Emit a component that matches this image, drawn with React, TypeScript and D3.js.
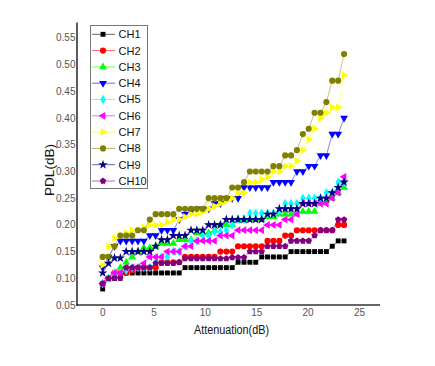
import React from 'react';
import * as d3 from 'd3';

// attenuation steps (dB)
const attenuation = [0, 0.57, 1.15, 1.72, 2.29, 2.87, 3.44, 4.01, 4.59, 5.16, 5.73, 6.3, 6.88, 7.45,
  8.02, 8.6, 9.17, 9.74, 10.32, 10.89, 11.46, 12.04, 12.61, 13.18, 13.76, 14.33, 14.9, 15.48, 16.05,
  16.62, 17.2, 17.77, 18.34, 18.91, 19.49, 20.06, 20.63, 21.21, 21.78, 22.35, 22.93, 23.5];

const ch1 = [0.08, 0.10, 0.10, 0.105, 0.11, 0.11, 0.11, 0.11, 0.11, 0.11, 0.11, 0.11, 0.11, 0.11,
  0.12, 0.12, 0.12, 0.12, 0.12, 0.12, 0.12, 0.12, 0.12, 0.13, 0.13, 0.13, 0.13, 0.14, 0.14,
  0.14, 0.14, 0.14, 0.15, 0.15, 0.15, 0.15, 0.15, 0.15, 0.15, 0.16, 0.17, 0.17];
const ch2 = [0.09, 0.10, 0.11, 0.11, 0.11, 0.115, 0.12, 0.12, 0.12, 0.12, 0.13, 0.13, 0.13, 0.13,
  0.14, 0.14, 0.14, 0.14, 0.14, 0.14, 0.15, 0.15, 0.15, 0.16, 0.16, 0.16, 0.16, 0.16, 0.17,
  0.17, 0.17, 0.18, 0.18, 0.19, 0.19, 0.19, 0.19, 0.19, 0.19, 0.19, 0.20, 0.20];
const ch3 = [0.09, 0.10, 0.11, 0.12, 0.13, 0.14, 0.15, 0.157, 0.157, 0.16, 0.165, 0.165, 0.165, 0.172,
  0.172, 0.172, 0.185, 0.185, 0.185, 0.19, 0.20, 0.20, 0.20, 0.21, 0.21, 0.21, 0.21, 0.21, 0.215,
  0.215, 0.22, 0.22, 0.22, 0.22, 0.225, 0.225, 0.225, 0.24, 0.245, 0.25, 0.26, 0.27];
const ch4 = [0.12, 0.14, 0.16, 0.17, 0.17, 0.17, 0.17, 0.17, 0.18, 0.18, 0.19, 0.19, 0.19, 0.21,
  0.22, 0.225, 0.23, 0.23, 0.23, 0.24, 0.24, 0.25, 0.25, 0.25, 0.27, 0.27, 0.27, 0.27, 0.27,
  0.28, 0.28, 0.28, 0.28, 0.30, 0.30, 0.31, 0.31, 0.33, 0.33, 0.37, 0.37, 0.40];
const ch5 = [0.09, 0.10, 0.11, 0.11, 0.115, 0.12, 0.12, 0.12, 0.12, 0.13, 0.14, 0.14, 0.15, 0.15,
  0.16, 0.17, 0.17, 0.18, 0.18, 0.187, 0.187, 0.19, 0.20, 0.21, 0.21, 0.222, 0.222, 0.222, 0.222,
  0.222, 0.225, 0.24, 0.24, 0.24, 0.25, 0.25, 0.25, 0.25, 0.26, 0.26, 0.28, 0.28];
const ch6 = [0.09, 0.10, 0.11, 0.11, 0.12, 0.12, 0.12, 0.128, 0.14, 0.14, 0.14, 0.15, 0.15, 0.15,
  0.16, 0.16, 0.17, 0.17, 0.17, 0.17, 0.18, 0.18, 0.18, 0.19, 0.19, 0.19, 0.19, 0.19, 0.20,
  0.20, 0.20, 0.21, 0.21, 0.22, 0.24, 0.24, 0.24, 0.24, 0.24, 0.25, 0.26, 0.29];
const ch7 = [0.125, 0.16, 0.175, 0.18, 0.185, 0.19, 0.19, 0.195, 0.20, 0.20, 0.20, 0.205, 0.21, 0.21,
  0.215, 0.22, 0.22, 0.225, 0.23, 0.235, 0.24, 0.245, 0.25, 0.26, 0.26, 0.28, 0.28, 0.285, 0.29,
  0.30, 0.30, 0.31, 0.31, 0.32, 0.34, 0.36, 0.38, 0.40, 0.41, 0.42, 0.42, 0.48];
const ch8 = [0.14, 0.14, 0.16, 0.18, 0.18, 0.18, 0.19, 0.19, 0.21, 0.22, 0.22, 0.22, 0.22, 0.23,
  0.23, 0.23, 0.23, 0.23, 0.25, 0.25, 0.25, 0.25, 0.27, 0.27, 0.28, 0.30, 0.30, 0.30, 0.30,
  0.31, 0.31, 0.33, 0.33, 0.34, 0.37, 0.38, 0.41, 0.41, 0.43, 0.47, 0.47, 0.52];
const ch9 = [0.11, 0.128, 0.138, 0.138, 0.15, 0.15, 0.15, 0.15, 0.15, 0.16, 0.172, 0.172, 0.18, 0.18,
  0.18, 0.19, 0.19, 0.19, 0.20, 0.20, 0.20, 0.21, 0.21, 0.21, 0.21, 0.21, 0.21, 0.21, 0.22,
  0.22, 0.23, 0.23, 0.23, 0.23, 0.24, 0.24, 0.24, 0.25, 0.25, 0.26, 0.27, 0.28];
const ch10 = [0.09, 0.10, 0.10, 0.10, 0.12, 0.12, 0.12, 0.12, 0.12, 0.128, 0.128, 0.128, 0.128, 0.13,
  0.137, 0.137, 0.137, 0.137, 0.137, 0.137, 0.137, 0.137, 0.139, 0.139, 0.139, 0.15, 0.15, 0.15, 0.16,
  0.16, 0.16, 0.16, 0.17, 0.17, 0.17, 0.17, 0.18, 0.19, 0.19, 0.19, 0.21, 0.21];

const channelNames = ['CH1', 'CH2', 'CH3', 'CH4', 'CH5', 'CH6', 'CH7', 'CH8', 'CH9', 'CH10'];
const channelValues = [ch1, ch2, ch3, ch4, ch5, ch6, ch7, ch8, ch9, ch10];
const channelColors = ['#000000', '#ff0000', '#00ff00', '#0000ff', '#00ffff', '#ff00ff', '#ffff00',
  '#808000', '#000080', '#800080'];
const channelShapes = ['square', 'circle', 'triUp', 'triDown', 'diamond', 'triLeft', 'triRight',
  'circle', 'star', 'pentagon'];

const xTicks = [0, 5, 10, 15, 20, 25];
const yTicks = [0.05, 0.10, 0.15, 0.20, 0.25, 0.30, 0.35, 0.40, 0.45, 0.50, 0.55];

const W = 435;
const H = 366;
const left = 77, right = 380, top = 24.6, bottom = 305;

const x = d3.scaleLinear().domain([-2.5, 27]).range([left, right]);
const y = d3.scaleLinear().domain([0.05, 0.575]).range([bottom, top]);

function pentagon(r: number) {
  const pts = d3.range(5).map(k => {
    const a = -Math.PI / 2 + k * 2 * Math.PI / 5;
    return [r * Math.cos(a), r * Math.sin(a)];
  });
  return 'M' + pts.map(p => p.join(',')).join('L') + 'Z';
}

function marker(shape: string) {
  switch (shape) {
    case 'square': return { d: d3.symbol(d3.symbolSquare, 24)()!, rot: 0 };
    case 'circle': return { d: d3.symbol(d3.symbolCircle, 30)()!, rot: 0 };
    case 'triUp': return { d: d3.symbol(d3.symbolTriangle, 26)()!, rot: 0 };
    case 'triDown': return { d: d3.symbol(d3.symbolTriangle, 26)()!, rot: 180 };
    case 'triLeft': return { d: d3.symbol(d3.symbolTriangle, 26)()!, rot: -90 };
    case 'triRight': return { d: d3.symbol(d3.symbolTriangle, 26)()!, rot: 90 };
    case 'diamond': return { d: d3.symbol(d3.symbolDiamond, 26)()!, rot: 0 };
    case 'star': return { d: d3.symbol(d3.symbolStar, 28)()!, rot: 0 };
    default: return { d: pentagon(3.4), rot: 0 };
  }
}

const line = d3.line<number>()
  .x((_, i) => x(attenuation[i]))
  .y(v => y(v));

const font = 'Arial, "Liberation Sans", sans-serif';

export default function App() {
  return (
    <svg width={W} height={H} style={{ position: 'absolute', left: 0, top: 0, background: '#fff' }}
      fontFamily={font}>
      {/* series */}
      {channelValues.map((vals, s) => {
        const m = marker(channelShapes[s]);
        return (
          <g key={channelNames[s]}>
            <path d={line(vals)!} fill="none" stroke={channelColors[s]} strokeWidth={0.8} strokeOpacity={0.6} />
            {vals.map((v, i) => (
              <path key={i} d={m.d} fill={channelColors[s]}
                transform={`translate(${x(attenuation[i])},${y(v)}) rotate(${m.rot})`} />
            ))}
          </g>
        );
      })}

      {/* axes */}
      <line x1={left} x2={left} y1={top - 2} y2={bottom + 1} stroke="#333" strokeWidth={1.6} />
      <line x1={left - 1} x2={right} y1={bottom} y2={bottom} stroke="#333" strokeWidth={1.6} />
      {yTicks.map(t => (
        <text key={t} x={left - 1.5} y={y(t)} dy="0.35em" textAnchor="end" fontSize={10} fill="#555">
          {t.toFixed(2)}
        </text>
      ))}
      {xTicks.map(t => (
        <text key={t} x={x(t)} y={316} textAnchor="middle" fontSize={10} fill="#555">{t}</text>
      ))}
      <text x={231.5} y={334} textAnchor="middle" fontSize={12} fill="#111"
        textLength={75} lengthAdjust="spacingAndGlyphs">Attenuation(dB)</text>
      <text transform="translate(54,170) rotate(-90)" textAnchor="middle" fontSize={12} fill="#111"
        textLength={52} lengthAdjust="spacingAndGlyphs">PDL(dB)</text>

      {/* legend */}
      <rect x={90.5} y={25.5} width={57} height={163} fill="#fff" stroke="#777" strokeWidth={1} />
      {channelNames.map((name, s) => {
        const m = marker(channelShapes[s]);
        const ly = 34.3 + s * 16.3;
        return (
          <g key={name}>
            <line x1={92} x2={115} y1={ly} y2={ly} stroke={channelColors[s]} strokeWidth={1} strokeOpacity={0.6} />
            <path d={m.d} fill={channelColors[s]} transform={`translate(103,${ly}) rotate(${m.rot})`} />
            <text x={118.5} y={ly} dy="0.36em" fontSize={11} fill="#111">{name}</text>
          </g>
        );
      })}
    </svg>
  );
}
